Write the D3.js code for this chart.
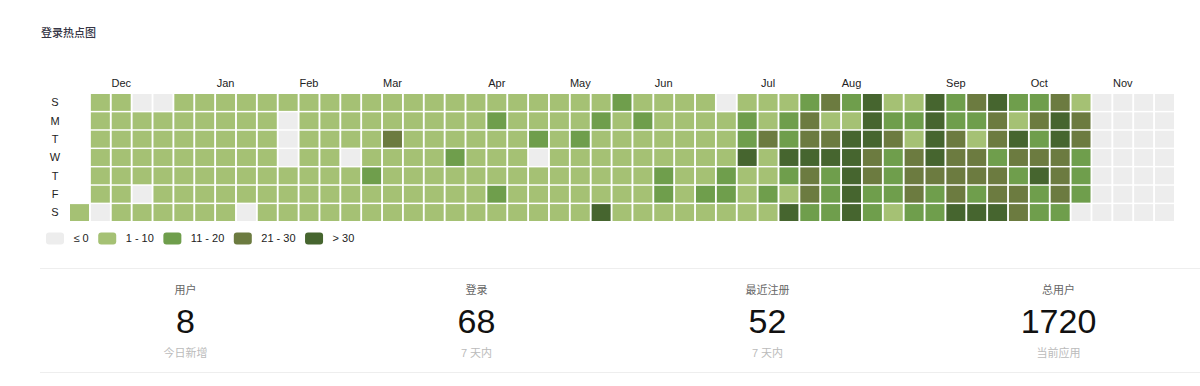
<!DOCTYPE html>
<html>
<head>
<meta charset="utf-8">
<title>登录热点图</title>
<script src="https://cdn.jsdelivr.net/npm/d3@7"></script>
<style>
  body { margin: 0; background: #fff; }
  svg text { font-family: "Helvetica Neue", Helvetica, "Liberation Sans", Arial, "Noto Sans CJK SC", sans-serif; }
</style>
</head>
<body>
<div id="graph"></div>
<script>
// first day shown in the grid (a Saturday), one value per day after it
var startDay = "2018-11-17";
var dayLabels = ["S", "M", "T", "W", "T", "F", "S"];

var logins = [
  3,
  4, 6, 5, 7, 3, 2, 0,
  5, 8, 6, 4, 7, 5, 3,
  0, 6, 9, 5, 4, 0, 2,
  0, 3, 5, 7, 6, 4, 2,
  4, 6, 8, 5, 7, 3, 2,
  3, 5, 6, 7, 4, 6, 1,
  2, 4, 5, 3, 6, 4, 3,
  1, 7, 6, 5, 4, 3, 0,
  2, 5, 8, 6, 7, 5, 3,
  4, 0, 0, 0, 3, 5, 2,
  3, 6, 7, 5, 8, 4, 2,
  4, 7, 5, 6, 9, 6, 3,
  2, 8, 6, 0, 7, 5, 4,
  3, 9, 7, 6, 14, 8, 5,
  4, 8, 23, 9, 7, 6, 3,
  5, 7, 8, 6, 9, 7, 4,
  3, 9, 6, 8, 7, 5, 2,
  4, 8, 7, 13, 9, 6, 3,
  5, 9, 8, 7, 6, 8, 4,
  3, 12, 9, 8, 7, 15, 5,
  4, 8, 7, 9, 6, 5, 3,
  6, 9, 16, 0, 8, 7, 4,
  5, 7, 8, 9, 10, 6, 3,
  4, 9, 12, 8, 7, 6, 5,
  6, 17, 9, 8, 10, 7, 34,
  14, 9, 8, 7, 6, 9, 5,
  7, 13, 10, 8, 9, 7, 6,
  5, 9, 8, 7, 16, 12, 4,
  6, 8, 9, 10, 7, 8, 5,
  4, 10, 9, 8, 7, 13, 6,
  0, 9, 8, 10, 15, 17, 7,
  8, 14, 18, 36, 9, 10, 6,
  7, 9, 24, 10, 8, 16, 9,
  9, 15, 19, 38, 17, 10, 33,
  12, 26, 22, 41, 27, 24, 18,
  25, 10, 28, 35, 16, 19, 14,
  17, 9, 37, 44, 39, 32, 36,
  33, 40, 42, 28, 24, 19, 16,
  8, 18, 27, 20, 17, 15, 10,
  9, 19, 10, 26, 29, 23, 14,
  37, 39, 45, 33, 26, 18, 15,
  15, 20, 22, 27, 25, 24, 34,
  26, 16, 9, 29, 28, 17, 38,
  36, 23, 27, 19, 25, 28, 37,
  14, 8, 40, 22, 13, 21, 26,
  12, 24, 16, 28, 35, 19, 15,
  27, 31, 38, 24, 29, 22, 16,
  9, 22, 26, 15, 18, 17, 0,
  0, 0, 0, 0, 0, 0, 0,
  0, 0, 0, 0, 0, 0, 0,
  0, 0, 0, 0, 0, 0, 0,
  0, 0, 0, 0, 0, 0, 0
];

var levelBreaks = [1, 11, 21, 31];
var levelLabels = ["≤ 0", "1 - 10", "11 - 20", "21 - 30", "> 30"];

var statTitles = ["用户", "登录", "最近注册", "总用户"];
var statValues = [8, 68, 52, 1720];
var statNotes = ["今日新增", "7 天内", "7 天内", "当前应用"];

var w = 1200;
var h = 386;
var colors = ["#ededed", "#a5c174", "#6f9e4c", "#6c7b40", "#46652f"];

var start = d3.timeParse("%Y-%m-%d")(startDay);
var days = logins.map(function(v, i) {
  return { date: d3.timeDay.offset(start, i), value: v };
});
var last = days[days.length - 1].date;
var weeks = d3.timeWeek.count(start, last) + 1;

var x = d3.scaleBand().domain(d3.range(weeks)).range([70, 1174]).paddingInner(0.09);
var y = d3.scaleBand().domain(d3.range(7)).range([94, 221]).paddingInner(0.08);
var color = d3.scaleThreshold().domain(levelBreaks).range(colors);

var svg = d3.select("#graph").append("svg")
  .attr("width", w)
  .attr("height", h);

svg.append("text")
  .attr("x", 41)
  .attr("y", 33)
  .attr("dy", "0.35em")
  .style("font-size", "11px")
  .style("font-weight", 500)
  .attr("fill", "#353545")
  .text("登录热点图");

// weekday labels
svg.append("g").selectAll("text")
  .data(dayLabels)
  .join("text")
  .attr("x", 55)
  .attr("y", function(d, i) { return y(i) + y.bandwidth() / 2; })
  .attr("dy", "0.35em")
  .attr("text-anchor", "middle")
  .style("font-size", "11px")
  .attr("fill", "#222")
  .text(function(d) { return d; });

// month labels at the week holding the 1st
var months = d3.timeMonth.range(d3.timeMonth.ceil(start), last);
svg.append("g").selectAll("text")
  .data(months)
  .join("text")
  .attr("x", function(d) { return x(d3.timeWeek.count(start, d)) + x.bandwidth() / 2; })
  .attr("y", 83)
  .attr("dy", "0.35em")
  .attr("text-anchor", "middle")
  .style("font-size", "11px")
  .attr("fill", "#222")
  .text(d3.timeFormat("%b"));

svg.append("g").selectAll("rect")
  .data(days)
  .join("rect")
  .attr("x", function(d) { return x(d3.timeWeek.count(start, d.date)); })
  .attr("y", function(d) { return y(d.date.getDay()); })
  .attr("width", x.bandwidth())
  .attr("height", y.bandwidth())
  .attr("fill", function(d) { return color(d.value); });

// legend
var legend = svg.append("g").attr("transform", "translate(46,232.5)");
var lx = 0;
levelLabels.forEach(function(label, i) {
  legend.append("rect")
    .attr("x", lx)
    .attr("width", 18)
    .attr("height", 12)
    .attr("rx", 3)
    .attr("fill", colors[i]);
  var t = legend.append("text")
    .attr("x", lx + 27.5)
    .attr("y", 6)
    .attr("dy", "0.35em")
    .style("font-size", "11px")
    .attr("fill", "#222")
    .text(label);
  lx += 27.5 + t.node().getComputedTextLength() + 9.5;
});

// stats row
svg.selectAll("line.sep")
  .data([268.5, 372.5])
  .join("line")
  .attr("class", "sep")
  .attr("x1", 40)
  .attr("x2", w)
  .attr("y1", function(d) { return d; })
  .attr("y2", function(d) { return d; })
  .attr("stroke", "#eeeeee");

var sx = d3.scaleBand().domain(d3.range(statTitles.length)).range([40, 1204]);
var stat = svg.append("g").selectAll("g")
  .data(statTitles)
  .join("g")
  .attr("transform", function(d, i) { return "translate(" + (sx(i) + sx.bandwidth() / 2) + ",0)"; });

stat.append("text")
  .attr("y", 290)
  .attr("dy", "0.35em")
  .attr("text-anchor", "middle")
  .style("font-size", "11px")
  .attr("fill", "#666")
  .text(function(d) { return d; });

stat.append("text")
  .attr("y", 321.5)
  .attr("dy", "0.35em")
  .attr("text-anchor", "middle")
  .style("font-size", "34px")
  .attr("fill", "#111")
  .text(function(d, i) { return statValues[i]; });

stat.append("text")
  .attr("y", 353)
  .attr("dy", "0.35em")
  .attr("text-anchor", "middle")
  .style("font-size", "11px")
  .attr("fill", "#bbb")
  .text(function(d, i) { return statNotes[i]; });
</script>
</body>
</html>
